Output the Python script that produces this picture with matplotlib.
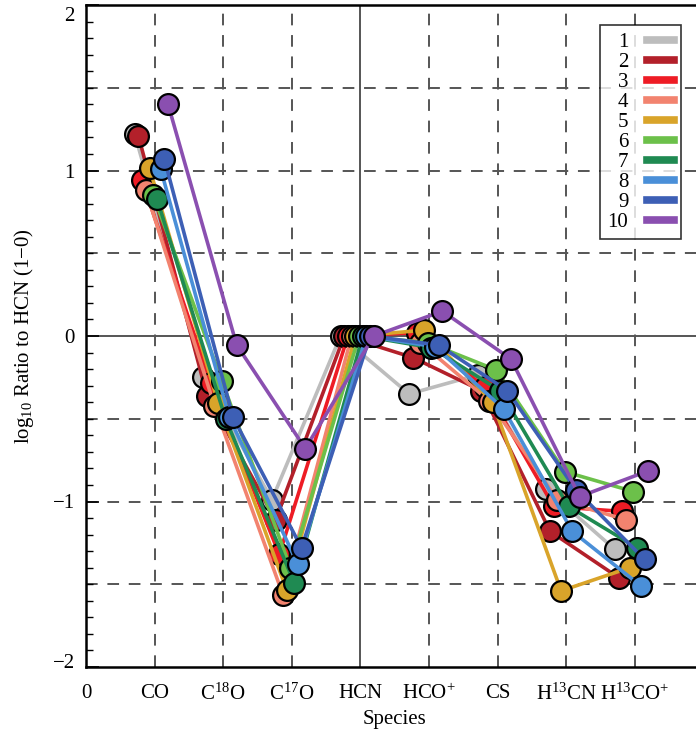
import matplotlib
matplotlib.use("Agg")
import matplotlib.pyplot as plt
import matplotlib.transforms as mtransforms
from matplotlib.lines import Line2D
from matplotlib.ticker import MultipleLocator
import numpy as np

plt.rcParams['font.family'] = ['Liberation Serif', 'DejaVu Serif']
plt.rcParams['mathtext.fontset'] = 'custom'
plt.rcParams['mathtext.rm'] = 'Liberation Serif'
plt.rcParams['mathtext.it'] = 'Liberation Serif:italic'

# species along x (position 1..8), tick 0 is blank origin
species = ["0", "CO", r"C$^{\mathrm{18}}$O", r"C$^{\mathrm{17}}$O", "HCN",
           r"HCO$^{+}$", "CS", r"H$^{\mathrm{13}}$CN", r"H$^{\mathrm{13}}$CO$^{+}$"]

# log10 ratio to HCN (1-0) for each model, order: CO, C18O, C17O, HCN, HCO+, CS, H13CN, H13CO+
m1 = [1.22, -0.25, -0.99, 0.0, -0.35, -0.235, -0.925, -1.29]
m2 = [1.21, -0.36, -1.11, 0.0, -0.13, -0.33, -1.18, -1.46]
m3 = [0.94, -0.285, -1.32, 0.0, 0.02, -0.31, -1.03, -1.06]
m4 = [0.88, -0.42, -1.565, 0.0, -0.04, -0.39, -0.99, -1.11]
m5 = [1.015, -0.405, -1.535, 0.0, 0.035, -0.40, -1.54, -1.40]
m6 = [0.85, -0.27, -1.40, 0.0, -0.04, -0.205, -0.82, -0.94]
m7 = [0.83, -0.50, -1.49, 0.0, -0.07, -0.33, -1.03, -1.28]
m8 = [1.01, -0.49, -1.38, 0.0, -0.065, -0.44, -1.18, -1.51]
m9 = [1.07, -0.49, -1.28, 0.0, -0.055, -0.33, -0.93, -1.35]
m10 = [1.40, -0.054, -0.68, 0.0, 0.15, -0.14, -0.97, -0.815]

models = [m1, m2, m3, m4, m5, m6, m7, m8, m9, m10]
labels = [str(i) for i in range(1, 11)]
colors = ['#bdbdbd', '#b3202a', '#ee1c25', '#f2836f', '#d9a42a',
          '#6cc04a', '#1f8a52', '#4a8fd8', '#3d5fb5', '#8a4fb0']

fig = plt.figure(figsize=(6.96, 7.31), dpi=100)
ax = fig.add_axes([86/696, 64/731, 9*68.6/696, 662/731])

# grid
for x in range(1, 9):
    if x == 4:
        ax.axvline(x, color='#555555', lw=1.4, zorder=0)
    else:
        ax.axvline(x, color='#555555', lw=1.4, ls=(0, (6, 5)), zorder=0)
for y in [-1.5, -1, -0.5, 0.5, 1, 1.5]:
    ax.axhline(y, color='#555555', lw=1.4, ls=(0, (6, 5)), zorder=0)
ax.axhline(0, color='#555555', lw=1.4, zorder=0)

xs = np.arange(1, 9)
for i, (vals, c) in enumerate(zip(models, colors)):
    off = -0.29 + i*0.054
    ax.plot(xs + off, vals, '-', color=c, lw=2.6, zorder=2 + i,
            marker='o', ms=15, mfc=c, mec='black', mew=1.6, clip_on=False)

ax.set_xlim(0, 9)
ax.set_ylim(-2, 2)
ax.set_xticks(range(0, 9))
ax.set_xticklabels(species, fontsize=15)
ax.set_yticks([-2, -1, 0, 1, 2])
ax.set_yticklabels(["\u22122", "\u22121", "0", "1", "2"], fontsize=15)
ax.yaxis.set_minor_locator(MultipleLocator(0.1))
ax.tick_params(axis='y', which='major', direction='in', length=9, width=1.2, pad=8)
ax.tick_params(axis='y', which='minor', direction='in', length=5, width=1.0)
ax.tick_params(axis='x', which='major', direction='in', length=0, pad=12)
for s in ax.spines.values():
    s.set_linewidth(1.8)

# pull the end labels inwards a little, as in the original
ylabs = ax.get_yticklabels()
ylabs[-1].set_transform(ylabs[-1].get_transform() +
                        mtransforms.ScaledTranslation(0, -9/100, fig.dpi_scale_trans))
ylabs[0].set_transform(ylabs[0].get_transform() +
                       mtransforms.ScaledTranslation(0, 6/100, fig.dpi_scale_trans))

ax.set_xlabel("Species", fontsize=15, labelpad=4)
ax.set_ylabel("log$_{\\mathrm{10}}$ Ratio to HCN (1\u22120)", fontsize=15, labelpad=12)

handles = [Line2D([0], [0], color=c, lw=5.5) for c in colors]
leg = ax.legend(handles, labels, loc='upper left', bbox_to_anchor=((600 - 86)/617, 1 - 20/662),
                borderaxespad=0, markerfirst=False, fontsize=15, frameon=True, fancybox=False,
                edgecolor='black', handlelength=1.3, handletextpad=0.9,
                labelspacing=0.02, borderpad=0.35)
leg.get_frame().set_linewidth(1.2)
for t in leg.get_texts():
    t.set_ha('right')
leg.set_zorder(20)

fig.savefig("out.png", dpi=100)
